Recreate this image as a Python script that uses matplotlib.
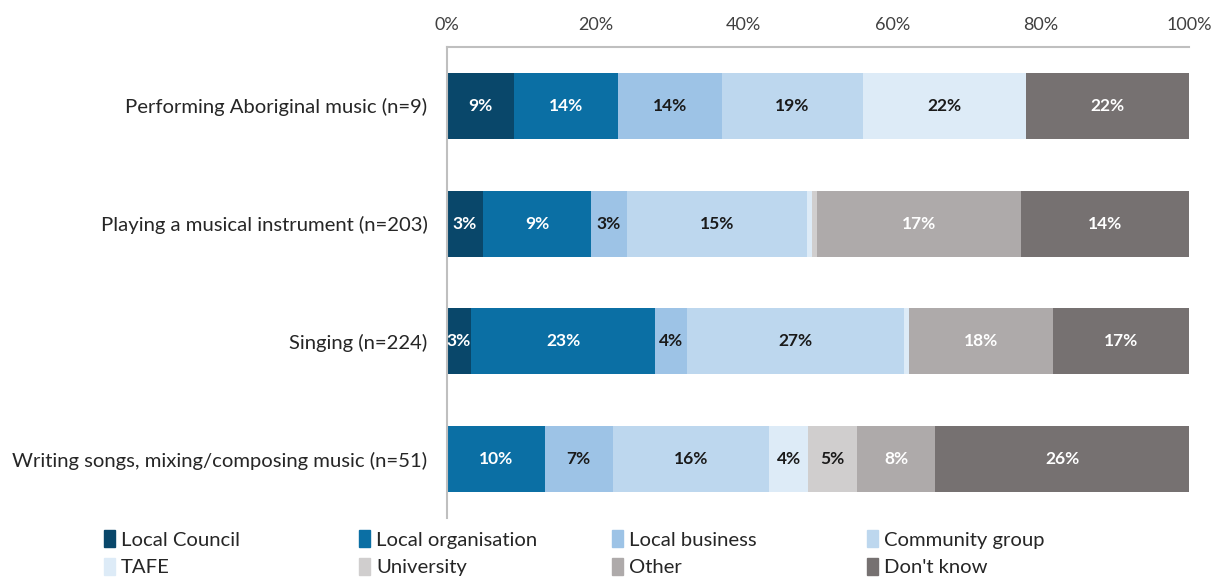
import numpy as np
import matplotlib.pyplot as plt
from matplotlib.patches import Patch

plt.rcParams["font.family"] = ["Lato", "DejaVu Sans"]

# Activities surveyed (top to bottom)
activities = [
    "Performing Aboriginal music (n=9)",
    "Playing a musical instrument (n=203)",
    "Singing (n=224)",
    "Writing songs, mixing/composing music (n=51)",
]

providers = [
    "Local Council", "Local organisation", "Local business", "Community group",
    "TAFE", "University", "Other", "Don't know",
]

# % of respondents per provider, one list per activity
local_council = [9, 3, 3, 0]
local_organisation = [14, 9, 23, 10]
local_business = [14, 3, 4, 7]
community_group = [19, 15, 27, 16]
tafe = [22, 0.4, 0.6, 4]
university = [0, 0.4, 0, 5]
other = [0, 17, 18, 8]
dont_know = [22, 14, 17, 26]

series = [local_council, local_organisation, local_business, community_group,
          tafe, university, other, dont_know]

colors = ["#09476A", "#0B6FA4", "#9DC3E6", "#BDD7EE",
          "#DDEBF7", "#D0CECE", "#AEAAAA", "#767171"]
text_colors = ["white", "white", "#1a1a1a", "#1a1a1a",
               "#1a1a1a", "#1a1a1a", "white", "white"]

values = np.array(series, dtype=float)
totals = values.sum(axis=0)
shares = values / totals * 100  # each bar scaled to 100%

fig = plt.figure(figsize=(12.13, 5.77), dpi=100)
ax = fig.add_axes([0.3685, 0.1023, 0.6117, 0.8162])

y = np.arange(len(activities))
left = np.zeros(len(activities))
for i, name in enumerate(providers):
    bars = ax.barh(y, shares[i], left=left, height=0.56, color=colors[i],
                   label=name)
    for j, bar in enumerate(bars):
        if values[i, j] >= 1:
            ax.text(bar.get_x() + bar.get_width() / 2, y[j],
                    f"{values[i, j]:.0f}%", ha="center", va="center",
                    fontsize=12.5, fontweight="bold", color=text_colors[i])
    left += shares[i]

ax.set_xlim(0, 100)
ax.set_ylim(len(activities) - 0.5, -0.5)
ax.set_yticks(y)
ax.set_yticklabels(activities, fontsize=14.6, color="#262626")
ax.set_xticks(np.arange(0, 101, 20))
ax.set_xticklabels([f"{t}%" for t in range(0, 101, 20)], fontsize=13,
                   color="#404040")
ax.xaxis.tick_top()
ax.tick_params(axis="both", length=0)
ax.tick_params(axis="x", pad=10)
ax.tick_params(axis="y", pad=14)

for side in ["right", "bottom"]:
    ax.spines[side].set_visible(False)
for side in ["top", "left"]:
    ax.spines[side].set_color("#BFBFBF")
    ax.spines[side].set_linewidth(1.5)

# legend: four fixed-width columns, two entries each, filled row by row
handles = [Patch(color=c, label=p) for c, p in zip(colors, providers)]
col_x = [0.079, 0.289, 0.498, 0.708]
for c, x0 in enumerate(col_x):
    idx = [c, c + 4]
    leg = fig.legend([handles[k] for k in idx], [providers[k] for k in idx],
                     loc="lower left", bbox_to_anchor=(x0, -0.013),
                     frameon=False, fontsize=14.6, handlelength=0.55,
                     handleheight=0.9, handletextpad=0.3, labelspacing=0.45,
                     borderaxespad=0)
    for t in leg.get_texts():
        t.set_color("#262626")

fig.savefig("out.png", dpi=100)
